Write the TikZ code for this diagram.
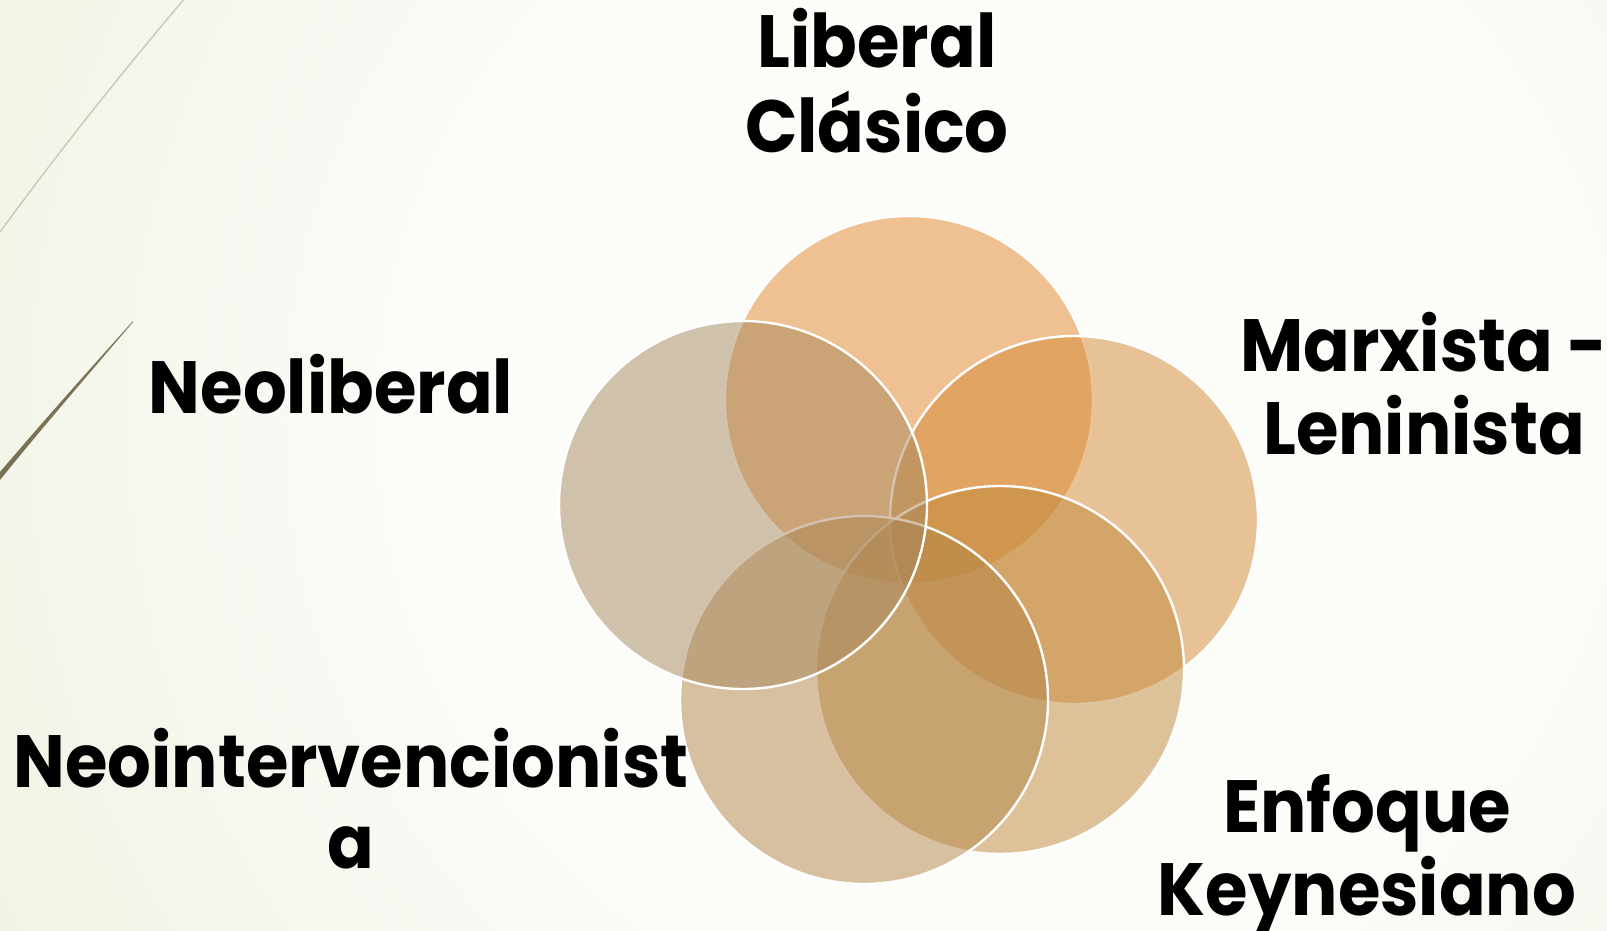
\documentclass[tikz,border=0pt]{standalone}
\usepackage{fontspec}
\setmainfont{Poppins}[FakeStretch=0.93]
\definecolor{bgin}{HTML}{FCFCF9}
\definecolor{bgout}{HTML}{D9E1BC}
\definecolor{cA}{HTML}{E4852A}
\definecolor{cB}{HTML}{D48A36}
\definecolor{cC}{HTML}{C0893A}
\definecolor{cD}{HTML}{B28548}
\definecolor{cE}{HTML}{A6875E}
\definecolor{lineA}{HTML}{C6CBB2}
\definecolor{lineB}{HTML}{7B7256}
\pgfdeclareradialshading{bgrad}{\pgfpointorigin}{color(0bp)=(bgin); color(12bp)=(bgin); color(50bp)=(bgout)}
\begin{document}
\begin{tikzpicture}[x=1pt,y=-1pt,
  venn/.style={circle, inner sep=0pt, minimum size=368pt, draw=white, line width=2.4pt, fill opacity=0.5},
  lbl/.style={anchor=base, inner sep=0pt, text=black, font=\bfseries\fontsize{74}{81}\selectfont}]
\useasboundingbox (0,0) rectangle (1607,930);
\begin{scope}
\clip (0,0) rectangle (1607,930);
\shade[shading=bgrad] (1000,420) circle (1150);
\end{scope}
% decorative lines
\draw[lineA, line width=1.4pt] (185,-2) .. controls (120,75) and (60,150) .. (0,232);
\fill[lineB] (133,321) .. controls (80,380) and (40,425) .. (0,472) -- (0,480) .. controls (42,428) and (82,382) .. (133,322) -- cycle;
% circles
\node[venn, fill=cA] (clasico) at (909,400) {};
\node[venn, fill=cB] (marxista) at (1074,520) {};
\node[venn, fill=cC] (keynes) at (1000,670) {};
\node[venn, fill=cD] (neoint) at (864,700) {};
\node[venn, fill=cE] (neolib) at (743,505) {};
% labels
\node[lbl] (tclasico) at (877,67) {\begin{tabular}[t]{@{}c@{}}Liberal\\Clásico\end{tabular}};
\node[lbl] (tneolib) at (331,413) {\begin{tabular}[t]{@{}c@{}}Neoliberal\end{tabular}};
\node[lbl] (tmarx) at (1424,371) {\begin{tabular}[t]{@{}c@{}}Marxista -\\Leninista\end{tabular}};
\node[lbl] (tneoint) at (351,787) {\begin{tabular}[t]{@{}c@{}}Neointervencionist\\a\end{tabular}};
\node[lbl] (tkeynes) at (1367,832) {\begin{tabular}[t]{@{}c@{}}Enfoque\\Keynesiano\end{tabular}};
\end{tikzpicture}
\end{document}
